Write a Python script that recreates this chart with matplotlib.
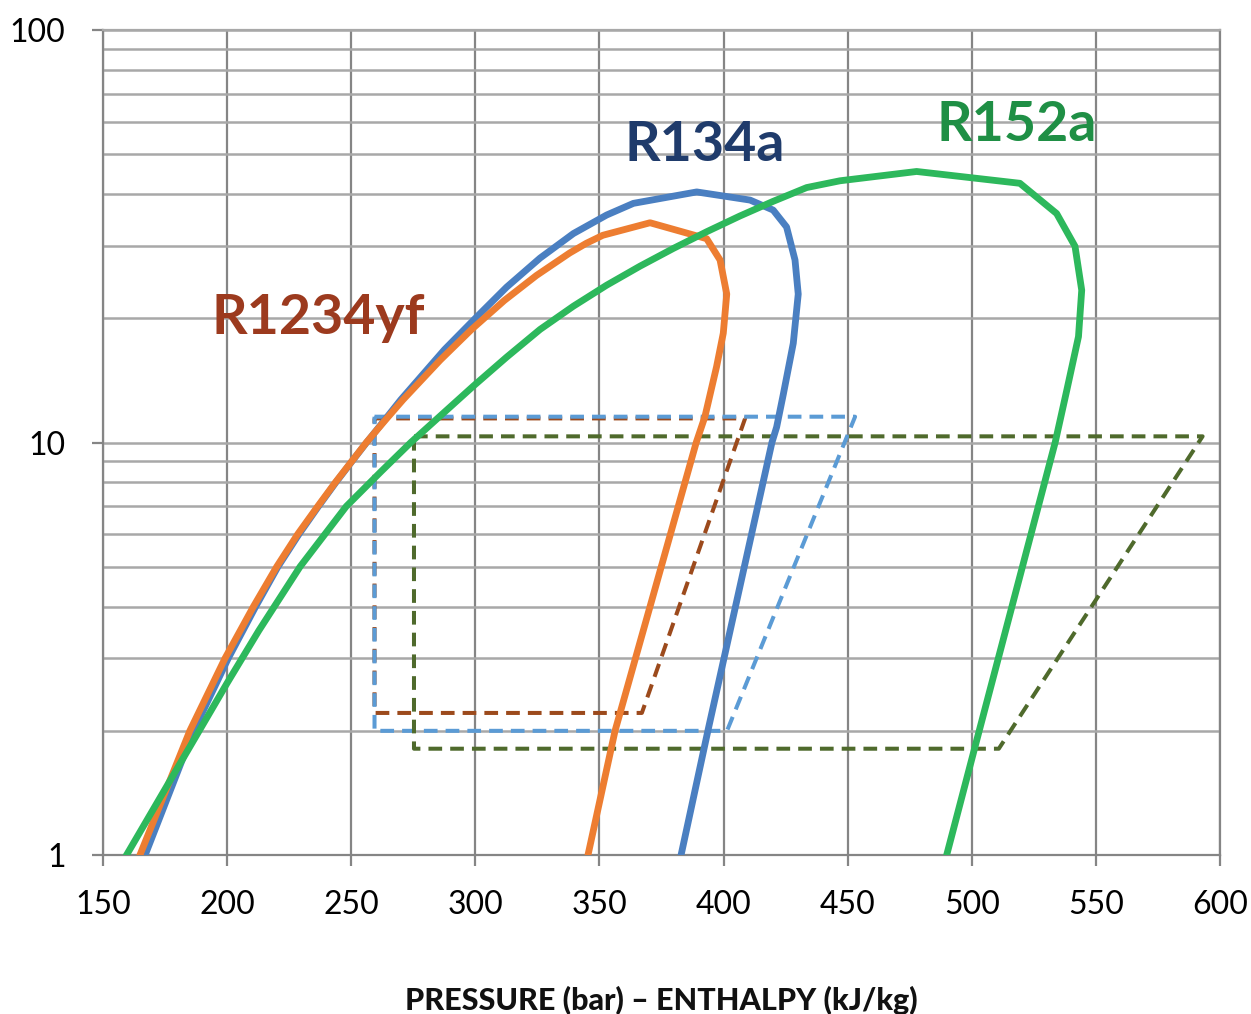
import matplotlib.pyplot as plt
from matplotlib.ticker import FixedLocator, NullFormatter

# saturation domes: enthalpy (kJ/kg) and pressure (bar)
r1234yf_h = [164.9, 185, 199.2, 210.6, 220, 228.5, 236.5, 243.6, 250.2, 256.1, 263.8,
             270.9, 285.9, 298.5, 311.7, 324.6, 338, 344.7, 351.4, 370.4,
             393.2, 398.6, 401.3, 399.9, 397.2, 392.5, 389, 356.3, 345.4]
r1234yf_p = [1, 2, 3, 4, 5, 6, 7, 8, 9, 10, 11.34,
             12.7, 15.85, 18.8, 22.1, 25.4, 28.8, 30.4, 31.8, 34.1,
             31.2, 27.7, 22.9, 18.4, 15.27, 11.55, 10, 2, 1]

r134a_h = [167, 186.5, 200.5, 211.5, 220.5, 229, 236.8, 243.8, 250.3, 256.2, 263.5,
           270, 287.6, 300, 312.6, 326.1, 339.5, 352.9, 363.7, 389.2,
           410.7, 420, 425.4, 428.8, 430.1, 428.1, 424.1, 421.4, 419.5, 393.7, 382.9]
r134a_p = [1, 2, 3, 4, 5, 6, 7, 8, 9, 10, 11.34,
           12.7, 16.8, 20, 23.8, 28, 32.1, 35.6, 38.0, 40.5,
           38.7, 36.6, 33.3, 27.7, 22.9, 17.4, 13.1, 10.9, 10, 2, 1]

r152a_h = [159.5, 200, 212.8, 229.4, 248, 262, 274, 299.2, 312.6, 326.1,
           339.5, 352.9, 366.4, 379.8, 393.2, 406.6, 420, 433.5, 446.9, 477.8,
           519.4, 534.2, 541.6, 544.3, 543, 538.3, 533.6, 503, 489.9]
r152a_p = [1, 2.61, 3.5, 5, 7, 8.5, 10, 13.7, 16.1, 18.8,
           21.4, 24.06, 26.77, 29.55, 32.43, 35.41, 38.43, 41.5, 43.1, 45.4,
           42.5, 35.9, 29.9, 23.4, 18.06, 13.4, 10, 2, 1]

# refrigeration cycles (dashed)
cyc_1234yf_h = [259.4, 408.7, 367.1, 259.4, 259.4]
cyc_1234yf_p = [11.44, 11.44, 2.21, 2.21, 11.44]
cyc_134a_h = [259.4, 453.0, 401.4, 259.4, 259.4]
cyc_134a_p = [11.55, 11.55, 2.0, 2.0, 11.55]
cyc_152a_h = [275.3, 593.0, 510.9, 275.3, 275.3]
cyc_152a_p = [10.35, 10.35, 1.81, 1.81, 10.35]

x_ticks = [150, 200, 250, 300, 350, 400, 450, 500, 550, 600]
y_ticks = [1, 10, 100]
y_minor = [m * d for d in (1, 10) for m in range(2, 10)]

fig = plt.figure(figsize=(12.51, 10.14), dpi=100)
ax = fig.add_axes([0.0823, 0.1568, 0.8929, 0.8136])

ax.set_yscale('log')
ax.set_xlim(150, 600)
ax.set_ylim(1, 100)

# grid
ax.yaxis.set_major_locator(FixedLocator(y_ticks))
ax.yaxis.set_minor_locator(FixedLocator(y_minor))
ax.yaxis.set_minor_formatter(NullFormatter())
ax.set_xticks(x_ticks)
ax.set_yticklabels([str(v) for v in y_ticks])
ax.grid(True, axis='y', which='both', color='#a8a8a8', lw=1.8)
ax.grid(True, axis='x', which='major', color='#858585', lw=1.6)
ax.set_axisbelow(True)
for s in ax.spines.values():
    s.set_color('#858585')
    s.set_linewidth(1.6)
ax.spines['top'].set_color('#a8a8a8')

ax.tick_params(axis='both', which='major', length=8, width=1.6, color='#858585',
               labelsize=23, pad=17)
ax.tick_params(axis='y', which='minor', length=0)
ax.tick_params(axis='y', which='major', pad=19)
for lab in ax.get_xticklabels() + ax.get_yticklabels():
    lab.set_family('Lato')

dash = (0, (3.4, 2.0))
ax.plot(cyc_1234yf_h, cyc_1234yf_p, color='#9c4a1c', lw=2.9, linestyle=dash, zorder=3)
ax.plot(cyc_134a_h, cyc_134a_p, color='#5b9bd5', lw=2.9, linestyle=dash, zorder=3)
ax.plot(cyc_152a_h, cyc_152a_p, color='#4f6a2c', lw=2.9, linestyle=dash, zorder=3)

ax.plot(r134a_h, r134a_p, color='#4a7fc1', lw=4.9, solid_joinstyle='round', zorder=4)
ax.plot(r1234yf_h, r1234yf_p, color='#ed7d31', lw=4.9, solid_joinstyle='round', zorder=4)
ax.plot(r152a_h, r152a_p, color='#2db85c', lw=4.9, solid_joinstyle='round', zorder=4)

# curve labels
ax.text(392.5, 52.6, 'R134a', color='#1f3b6b', fontsize=40, fontweight='bold',
        family='Lato', ha='center', va='center')
ax.text(518.2, 58.9, 'R152a', color='#1f8f45', fontsize=40, fontweight='bold',
        family='Lato', ha='center', va='center')
ax.text(236.6, 20.0, 'R1234yf', color='#9c3a1e', fontsize=40, fontweight='bold',
        family='Lato', ha='center', va='center')

fig.text(661 / 1251, 1 - 1000 / 1014, 'PRESSURE (bar) – ENTHALPY (kJ/kg)',
         fontsize=22, fontweight='black', family='Lato', ha='center', va='center',
         color='#111111')

fig.savefig('out.png', dpi=100)
